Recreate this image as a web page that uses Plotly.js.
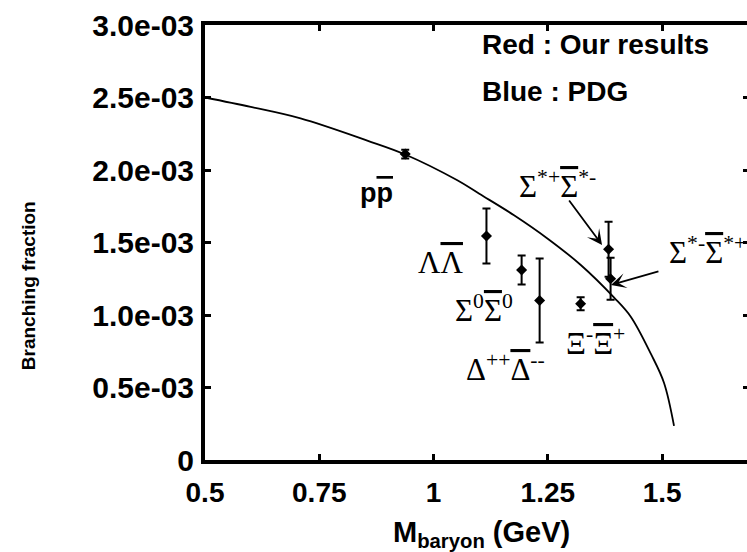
<!DOCTYPE html>
<html><head><meta charset="utf-8">
<script src="https://cdn.plot.ly/plotly-3.0.1.min.js"></script>
<style>html,body{margin:0;padding:0;overflow:hidden;background:#fff}#chart{width:752px;height:552px}</style>
</head><body><div id="chart"></div>
<script>
// Model curve
const curveMass = [0.50, 0.60, 0.709, 0.855, 0.938, 1.052, 1.10, 1.176, 1.249, 1.322, 1.395, 1.431, 1.476, 1.504, 1.526];
const curveBF   = [2.50e-3, 2.435e-3, 2.356e-3, 2.203e-3, 2.107e-3, 1.929e-3, 1.836e-3, 1.688e-3, 1.528e-3, 1.345e-3, 1.12e-3, 0.99e-3, 0.728e-3, 0.533e-3, 0.235e-3];
// Measured points
const channels = ['p p-bar', 'Lambda', 'Sigma0', 'Delta++', 'Xi-', 'Sigma*+', 'Sigma*-'];
const baryonMass = [0.938, 1.1157, 1.1926, 1.232, 1.3217, 1.3828, 1.3872];
const branchingFraction = [2.11e-3, 1.545e-3, 1.31e-3, 1.10e-3, 1.078e-3, 1.453e-3, 1.25e-3];
const bfError = [0.03e-3, 0.19e-3, 0.10e-3, 0.29e-3, 0.045e-3, 0.19e-3, 0.145e-3];
// Ticks
const xTickVals = [0.5, 0.75, 1, 1.25, 1.5];
const xTickText = ['0.5', '0.75', '1', '1.25', '1.5'];
const yTickVals = [0, 0.5e-3, 1.0e-3, 1.5e-3, 2.0e-3, 2.5e-3, 3.0e-3];
const yTickText = ['0', '0.5e-03', '1.0e-03', '1.5e-03', '2.0e-03', '2.5e-03', '3.0e-03'];
// Texts
const ol = s => '<span style="text-decoration:overline">' + s + '</span>';
const channelLabels = [
  'p' + ol('p'),
  'Λ' + ol('Λ'),
  'Σ<sup>0</sup>' + ol('Σ') + '<sup>0</sup>',
  'Δ<sup>++</sup>' + ol('Δ') + '<sup>--</sup>',
  'Ξ<sup>-</sup>' + ol('Ξ') + '<sup>+</sup>',
  'Σ<sup>*+</sup>' + ol('Σ') + '<sup>*-</sup>',
  'Σ<sup>*-</sup>' + ol('Σ') + '<sup>*+</sup>'
];
const legendLines = ['Red : Our results', 'Blue : PDG'];
const xTitle = 'M<sub>baryon</sub> (GeV)';
const yTitle = 'Branching fraction';

const sansFamily = 'Liberation Sans, Arial, sans-serif';
const sans = {family: sansFamily, size: 28, color: '#000', weight: 'bold'};
const serif = {family: 'Liberation Serif, Times New Roman, serif', size: 31, color: '#000'};

const traces = [
  {x: curveMass, y: curveBF, mode: 'lines', type: 'scatter', line: {color: '#000', width: 1.8, shape: 'spline', smoothing: 1}, hoverinfo: 'skip'},
  {x: baryonMass, y: branchingFraction, mode: 'markers', type: 'scatter', text: channels,
   marker: {symbol: 'diamond', size: 8.5, color: '#000'},
   error_y: {type: 'data', array: bfError, visible: true, color: '#000', thickness: 2, width: 4}}
];

const axisCommon = {showgrid: false, zeroline: false, showline: true, linecolor: '#000', linewidth: 4,
  ticks: 'inside', ticklen: 6, tickwidth: 3, tickcolor: '#000', mirror: 'ticks'};

const lp = [ // label placements [x, y, xanchor]
  [0.876, 1.841e-3, 'center'],
  [1.016, 1.359e-3, 'center'],
  [1.110, 1.048e-3, 'center'],
  [1.158, 0.641e-3, 'center'],
  [1.355, 0.814e-3, 'center'],
  [1.272, 1.903e-3, 'center'],
  [1.510, 1.448e-3, 'left']
];
const annotations = channelLabels.map((t, i) => ({
  x: lp[i][0], y: lp[i][1], xanchor: lp[i][2], yanchor: 'middle', text: t, showarrow: false,
  font: i === 0 ? Object.assign({}, sans, {size: 27}) : serif
}));
annotations.push(
  {x: 1.1016, y: 2.869e-3, xanchor: 'left', yanchor: 'middle', text: legendLines[0], showarrow: false, font: sans},
  {x: 1.1016, y: 2.538e-3, xanchor: 'left', yanchor: 'middle', text: legendLines[1], showarrow: false, font: sans},
  {x: 1.3685, y: 1.483e-3, ax: -34, ay: -46, text: '', showarrow: true, arrowhead: 3, arrowsize: 1.4, arrowwidth: 1.8, arrowcolor: '#000'},
  {x: 1.388, y: 1.207e-3, ax: 49, ay: -14, text: '', showarrow: true, arrowhead: 3, arrowsize: 1.4, arrowwidth: 1.8, arrowcolor: '#000'},
  {xref: 'paper', yref: 'paper', x: -0.325, y: 0.40, xanchor: 'center', yanchor: 'middle', textangle: -90,
   text: yTitle, showarrow: false, font: {family: sansFamily, size: 19, color: '#000', weight: 'bold'}},
  {xref: 'paper', yref: 'paper', x: 0.509, y: -0.171, xanchor: 'center', yanchor: 'middle',
   text: xTitle, showarrow: false, font: {family: sansFamily, size: 29, color: '#000', weight: 'bold'}}
);

const layout = {
  width: 752, height: 552,
  margin: {l: 205, r: 3, t: 25, b: 92},
  paper_bgcolor: '#fff', plot_bgcolor: '#fff',
  showlegend: false,
  xaxis: Object.assign({}, axisCommon, {range: [0.5, 1.69], tickvals: xTickVals, ticktext: xTickText,
    tickfont: sans, ticklabelstandoff: 4}),
  yaxis: Object.assign({}, axisCommon, {range: [0, 3.0e-3], tickvals: yTickVals, ticktext: yTickText,
    tickfont: Object.assign({}, sans, {size: 30}), ticklabelstandoff: 1}),
  annotations: annotations
};

Plotly.newPlot('chart', traces, layout, {displayModeBar: false, staticPlot: true});
</script>
</body></html>
